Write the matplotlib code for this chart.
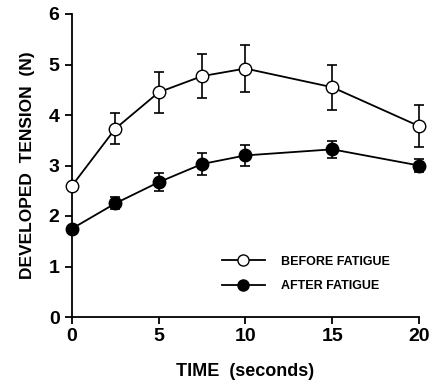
import matplotlib
matplotlib.use("Agg")
import matplotlib.pyplot as plt
from matplotlib.lines import Line2D

plt.rcParams['font.family'] = ['Liberation Sans', 'DejaVu Sans']
plt.rcParams['font.weight'] = 'bold'

time_s = [0, 2.5, 5, 7.5, 10, 15, 20]
before = [2.6, 3.73, 4.45, 4.77, 4.92, 4.55, 3.78]
before_err = [0.0, 0.3, 0.41, 0.43, 0.46, 0.45, 0.41]
after = [1.75, 2.25, 2.67, 3.03, 3.2, 3.32, 3.0]
after_err = [0.0, 0.12, 0.18, 0.22, 0.21, 0.17, 0.12]

fig = plt.figure(figsize=(4.30, 3.84), dpi=100)
ax = fig.add_axes([72/430, 1-317/384, (419-72)/430, (317-14)/384])

ax.errorbar(time_s, before, yerr=before_err, fmt='-o', color='black',
            mfc='white', mec='black', ms=9, lw=1.3, capsize=3.5, elinewidth=1.2,
            capthick=1.2, label='BEFORE FATIGUE', zorder=3, clip_on=False)
ax.errorbar(time_s, after, yerr=after_err, fmt='-o', color='black',
            mfc='black', mec='black', ms=9, lw=1.3, capsize=3.5, elinewidth=1.2,
            capthick=1.2, label='AFTER FATIGUE', zorder=3, clip_on=False)

ax.set_xlim(0, 20)
ax.set_ylim(0, 6)
ax.set_xticks([0, 5, 10, 15, 20])
ax.set_yticks([0, 1, 2, 3, 4, 5, 6])
ax.spines['top'].set_visible(False)
ax.spines['right'].set_visible(False)
ax.spines['left'].set_linewidth(1.3)
ax.spines['bottom'].set_linewidth(1.3)
ax.tick_params(axis='both', direction='out', length=5, width=1.3, labelsize=14)
ax.tick_params(axis='x', pad=3)
ax.tick_params(axis='y', pad=4)
for lab in ax.get_xticklabels() + ax.get_yticklabels():
    lab.set_fontweight('bold')

ax.set_xlabel('TIME  (seconds)', fontsize=13, fontweight='bold', labelpad=13)
ax.set_ylabel('DEVELOPED  TENSION  (N)', fontsize=12.5, fontweight='bold', labelpad=10)

handles = [Line2D([], [], color='black', lw=1.3, marker='o', ms=8, mfc='white', mec='black'),
           Line2D([], [], color='black', lw=1.3, marker='o', ms=8, mfc='black', mec='black')]
labels = ['BEFORE FATIGUE', 'AFTER FATIGUE']
ax.legend(handles, labels, loc='upper left', bbox_to_anchor=(0.4, 0.24), frameon=False,
          prop={'size': 9, 'weight': 'bold'}, handlelength=3.4, labelspacing=1.0,
          handletextpad=1.3)

fig.savefig('out.png', dpi=100)
